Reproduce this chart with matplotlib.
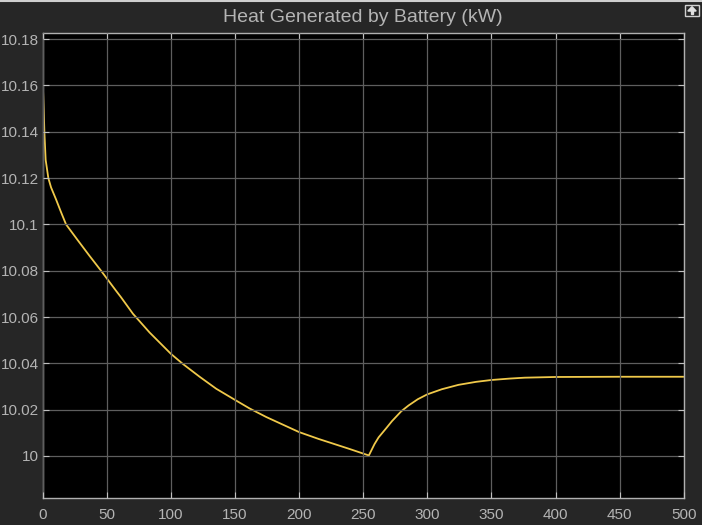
import numpy as np
import matplotlib.pyplot as plt
from matplotlib.ticker import FuncFormatter
from matplotlib.patches import Rectangle, Polygon
from matplotlib.lines import Line2D

# --- donnees ---
temps = [0, 0.8, 1.3, 2.3, 4.4, 6.5, 10.4, 14.3, 18.2, 27.3, 36.4, 45.5,
         57.4, 61, 70.4, 83.4, 100, 109.4, 122.4, 135.4, 150, 161.4, 174.4,
         187.4, 200, 215.4, 223.8, 239.4, 254.4,
         258.8, 262, 268, 272.4, 279.7, 285.4, 292.6, 300, 311.3, 324.3,
         338.1, 350, 364, 376, 400, 450, 500]
chaleur = [10.1625, 10.1495, 10.14, 10.1279, 10.12, 10.1160, 10.1108,
           10.1053, 10.10, 10.0932, 10.0865, 10.08, 10.0712, 10.0686, 10.0614,
           10.0533, 10.0441, 10.0397, 10.0342, 10.0290, 10.0242, 10.0205,
           10.0168, 10.0135, 10.0103, 10.0073, 10.0058, 10.0030, 10.0002,
           10.0051, 10.008, 10.0120, 10.0150, 10.0193, 10.0218, 10.0245,
           10.0266, 10.0288, 10.0307, 10.032, 10.0328, 10.0334, 10.0338,
           10.0341, 10.0342, 10.0342]
xticks = [0, 50, 100, 150, 200, 250, 300, 350, 400, 450, 500]
yticks = [10, 10.02, 10.04, 10.06, 10.08, 10.1, 10.12, 10.14, 10.16, 10.18]
titre = 'Heat Generated by Battery (kW)'

fond = '#262626'
txt = '#b4b4b4'

plt.rcParams['font.family'] = ['Liberation Sans', 'DejaVu Sans']

fig = plt.figure(figsize=(7.02, 5.25), dpi=100, facecolor=fond)
ax = fig.add_axes([42.7/702, 1 - 498.3/525, 641/702, 465.6/525])
ax.set_facecolor('black')

ax.plot(temps, chaleur, color='#f0c94a', lw=1.3, solid_joinstyle='round')

ax.set_xlim(0, 500)
ax.set_ylim(9.9817, 10.1828)
ax.set_xticks(xticks)
ax.set_yticks(yticks)
ax.yaxis.set_major_formatter(FuncFormatter(lambda v, p: '%g' % round(v, 3)))

ax.grid(True, color='#5e5e5e', lw=0.9)
ax.set_axisbelow(False)
ax.tick_params(direction='in', length=4, width=0.8, colors='#c0c0c0',
               labelcolor=txt, labelsize=11, top=True, right=True)
ax.tick_params(axis='x', pad=7)
ax.tick_params(axis='y', pad=3)
for s in ax.spines.values():
    s.set_color('#b0b0b0')
    s.set_linewidth(1)

# titre
fig.text(363/702, 1 - 17/525, titre, color=txt, fontsize=14,
         ha='center', va='center')

# ligne claire en haut de la fenetre
fig.add_artist(Line2D([0, 1], [1 - 1/525, 1 - 1/525], color='#cfcfcf', lw=1.5,
                      transform=fig.transFigure))

# petite icone en haut a droite
bx, by, bw, bh = 685/702, 1 - 16/525, 14/702, 11/525
fig.add_artist(Rectangle((bx, by), bw, bh, transform=fig.transFigure,
                         fill=False, edgecolor='#d0d0d0', lw=1))
fig.add_artist(Polygon([[bx + bw*0.5, by + bh*0.85], [bx + bw*0.2, by + bh*0.45],
                        [bx + bw*0.8, by + bh*0.45]], closed=True,
                       transform=fig.transFigure, color='#e0e0e0'))
fig.add_artist(Rectangle((bx + bw*0.42, by + bh*0.15), bw*0.16, bh*0.35,
                         transform=fig.transFigure, color='#e0e0e0'))

fig.savefig('out.png', dpi=100, facecolor=fond)
